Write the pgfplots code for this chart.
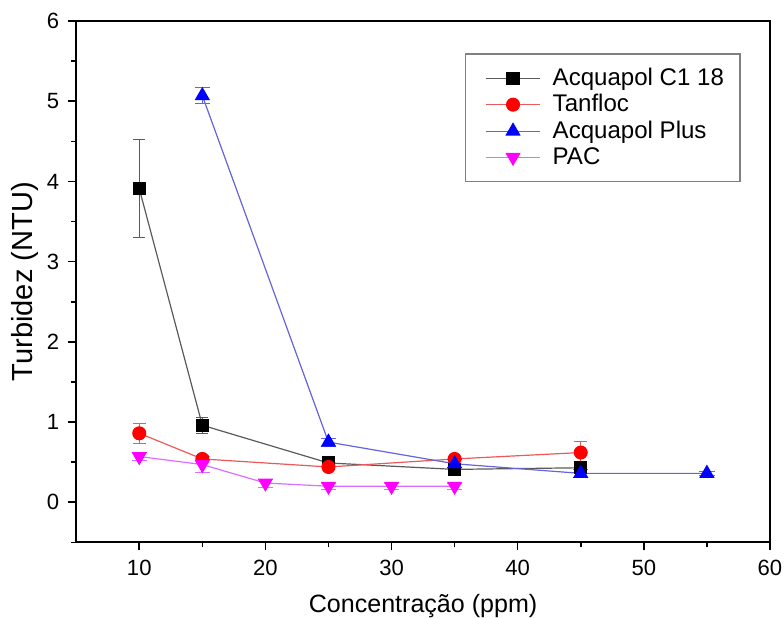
\documentclass[border=0pt]{standalone}
\usepackage{pgfplots}
\pgfplotsset{compat=1.18}
\usepackage{fontspec}
\setmainfont{Liberation Sans}
\definecolor{lgray}{RGB}{90,90,90}
\definecolor{lred}{RGB}{235,90,90}
\definecolor{lblue}{RGB}{100,100,220}
\definecolor{lmag}{RGB}{220,110,255}
\definecolor{mag}{RGB}{255,0,255}
\begin{document}
\begin{tikzpicture}
\begin{axis}[
  scale only axis,
  width=346pt, height=260pt,
  xmin=5, xmax=60, ymin=-0.5, ymax=6,
  xtick={10,20,...,60}, ytick={0,1,...,6},
  minor xtick={15,25,...,55}, minor ytick={-0.5,0.5,1.5,...,5.5},
  tick pos=left, tick align=outside,
  major tick length=4pt, minor tick length=2.5pt,
  axis line style={line width=1pt},
  every tick/.style={black, line width=0.8pt},
  tick label style={font=\fontsize{11}{13}\selectfont},
  xticklabel style={yshift=-1.5pt},
  yticklabel style={xshift=-1pt},
  /pgf/number format/assume math mode=true,
  xlabel={Concentração (ppm)}, ylabel={Turbidez (NTU)},
  xlabel style={font=\fontsize{12.5}{15}\selectfont, yshift=-2pt},
  ylabel style={font=\fontsize{14.5}{17}\selectfont, yshift=-2.5pt},
  legend style={at={(0.56,0.938)}, anchor=north west, draw=gray, line width=0.6pt,
    font=\fontsize{12}{14}\selectfont, row sep=-1pt, inner xsep=6pt, inner ysep=5pt},
  legend cell align=left,
  legend image code/.code={
    \path (-4pt,0pt) (31pt,0pt);
    \draw[mark repeat=2, mark phase=2, #1] plot coordinates {(0pt,0pt) (13.5pt,0pt) (27pt,0pt)};},
  error bars/error bar style={line width=0.5pt},
]
\addplot[lgray, line width=0.6pt, mark=square*, mark size=3pt,
  mark options={black, fill=black},
  error bars/.cd, y dir=both, y explicit]
  coordinates {(10,3.91) +- (0,0.61) (15,0.96) +- (0,0.1) (25,0.49) +- (0,0.03) (35,0.41) +- (0,0.03) (45,0.43) +- (0,0.03)};
\addlegendentry{Acquapol C1 18}
\addplot[lred, line width=0.6pt, mark=*, mark size=3.2pt,
  mark options={red, fill=red},
  error bars/.cd, y dir=both, y explicit]
  coordinates {(10,0.86) +- (0,0.12) (15,0.54) +- (0,0.04) (25,0.44) +- (0,0.03) (35,0.54) +- (0,0.03) (45,0.62) +- (0,0.14)};
\addlegendentry{Tanfloc}
\addplot[lblue, line width=0.6pt, mark=triangle*, mark size=3.8pt,
  mark options={blue, fill=blue},
  error bars/.cd, y dir=both, y explicit]
  coordinates {(15,5.07) +- (0,0.1) (25,0.75) +- (0,0.05) (35,0.48) +- (0,0.05) (45,0.36) +- (0,0.05) (55,0.36) +- (0,0.02)};
\addlegendentry{Acquapol Plus}
\addplot[lmag, line width=0.6pt, mark=triangle*, mark size=3.8pt,
  mark options={mag, fill=mag, rotate=180},
  error bars/.cd, y dir=both, y explicit]
  coordinates {(10,0.57) +- (0,0.05) (15,0.47) +- (0,0.1) (20,0.24) +- (0,0.05) (25,0.2) +- (0,0.04) (30,0.2) +- (0,0.04) (35,0.2) +- (0,0.04)};
\addlegendentry{PAC}
\end{axis}
\pgfresetboundingbox
\path ([shift={(-38pt,-38pt)}]current axis.south west) rectangle ([shift={(7pt,10.5pt)}]current axis.north east);
\end{tikzpicture}
\end{document}
